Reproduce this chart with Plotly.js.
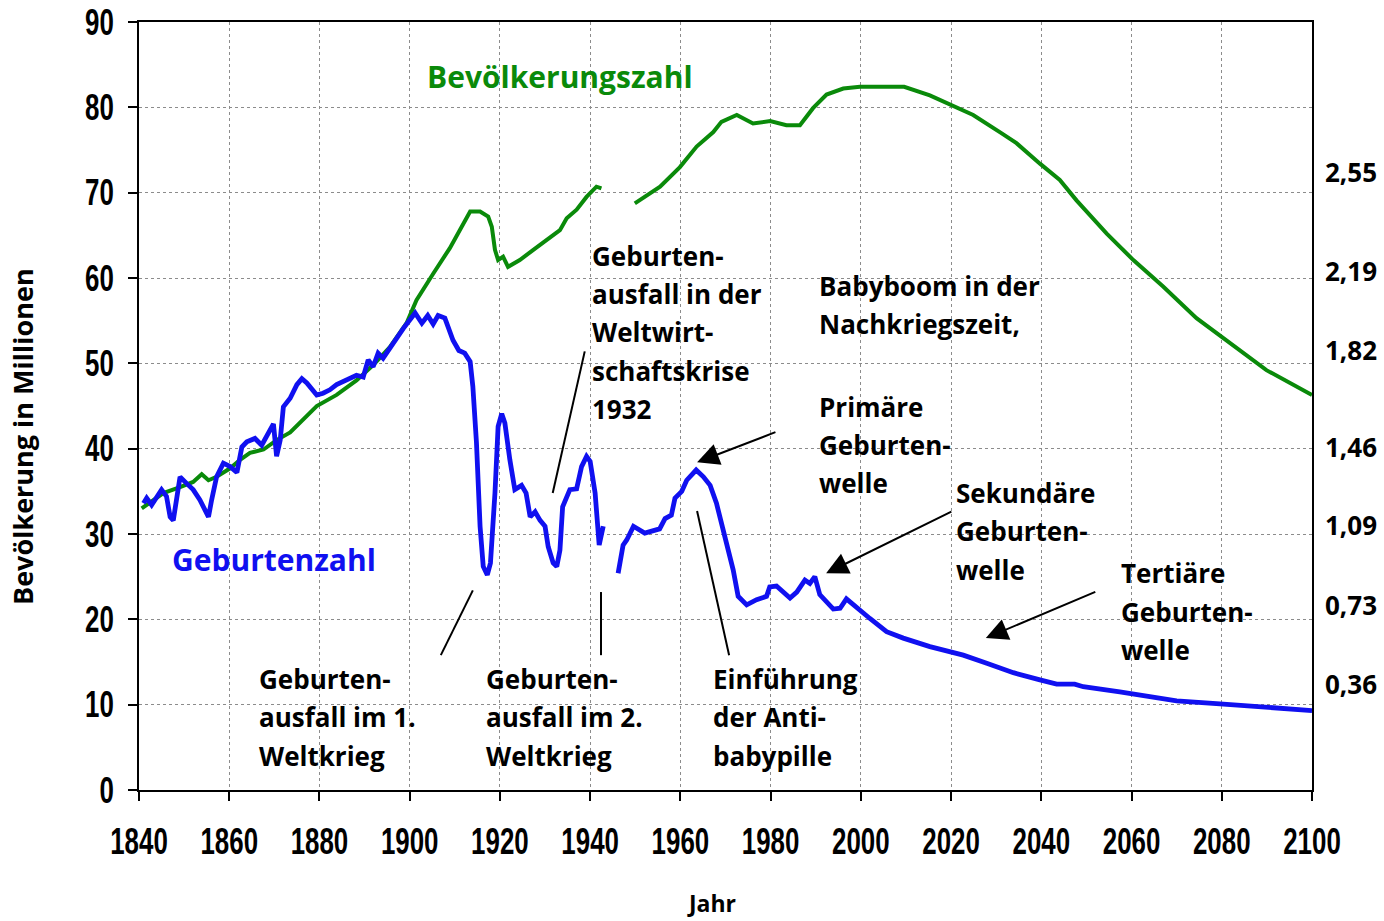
<!DOCTYPE html>
<html>
<head>
<meta charset="utf-8">
<script src="https://cdn.plot.ly/plotly-3.0.1.min.js"></script>
<style>html,body{margin:0;padding:0;background:#fff;}#chart{width:1384px;height:921px;}</style>
</head>
<body>
<div id="chart"></div>
<script>
// ---------- data ----------
const popYears = [1840.6,1845.4,1849.1,1852,1853.9,1855.4,1857.2,1860.2,1862.4,1864.6,1867.6,1870.5,1873.5,1876.4,1879.4,1883.8,1888.2,1891.9,1895.6,1899.3,1901.5,1905.2,1908.9,1911.1,1913.4,1915.6,1917.4,1918.2,1918.9,1919.6,1920.7,1921.8,1924.4,1927.4,1930.4,1933.3,1934.8,1937,1939.2,1941.4,1942.5,1946,1949.9,1955.5,1959.9,1963.6,1967.3,1969.1,1972.5,1976.1,1979.9,1983.5,1986.5,1989.4,1992.4,1996.1,1999.8,2009.6,2015.3,2020.1,2024.9,2030.8,2034.5,2039.7,2044.1,2047.8,2054.5,2060.4,2067,2074.4,2080,2089.9,2100];
const popValues = [33,34.8,35.5,36.1,37,36.3,36.7,37.7,38.7,39.5,39.9,41,41.9,43.5,45,46.3,48,49.8,51.9,54.7,57.4,60.5,63.5,65.6,67.8,67.8,67.2,66,63.3,62.1,62.5,61.3,62.1,63.3,64.5,65.6,67,68,69.5,70.7,70.5,null,68.75,70.7,73,75.4,77.1,78.3,79.1,78.1,78.4,77.9,77.9,79.9,81.5,82.2,82.4,82.4,81.4,80.3,79.1,77.1,75.8,73.4,71.5,69.1,65.2,62.1,59,55.3,53.1,49.2,46.3];

const birthYears = [1841,1841.7,1842.8,1843.9,1845,1846.1,1846.9,1847.6,1848.4,1849.1,1850.6,1852,1853.5,1854.6,1855.4,1856.1,1857.2,1858.7,1860.2,1861.7,1862.8,1863.9,1865.7,1867.2,1868.7,1869.8,1870.5,1871.3,1872,1873.5,1875,1876.1,1877.2,1878.3,1879.4,1880.8,1882.3,1883.8,1886,1888.2,1889.7,1890.8,1891.9,1893,1894.1,1896.4,1898.6,1901.2,1902.7,1904,1905.2,1906.3,1907.8,1909.6,1910.9,1912.2,1913.4,1914,1914.8,1915.6,1916.3,1917.2,1917.9,1918.9,1919.6,1920.4,1921.1,1922.2,1923.3,1924.8,1925.8,1926.7,1927.8,1928.9,1930,1930.7,1931.8,1932.6,1933.3,1933.9,1935.5,1937,1938.1,1939.2,1940,1941.1,1942,1942.9,1944.5,1946.2,1947.3,1948.1,1949.6,1952.1,1955.4,1956.6,1958,1958.8,1960.3,1961.4,1963.5,1965.1,1966.6,1968,1969.5,1970.6,1971.7,1972.8,1974.7,1976.9,1979.1,1979.8,1981.3,1984.3,1985.8,1987.6,1988.7,1989.8,1990.9,1993.9,1995.4,1996.8,1999.1,2002,2005.7,2009.4,2015.3,2020.5,2022.7,2027.9,2033.8,2039.7,2043.4,2047.4,2049.3,2057.4,2064.8,2070,2079.6,2090.7,2100];
const birthValues = [33.6,34.2,33.4,34.2,35.2,34.4,32,31.6,34.8,36.7,35.9,35.2,34,32.8,32,34,36.7,38.3,37.9,37.2,40.2,40.8,41.2,40.4,42,42.9,39.1,41,44.9,45.9,47.5,48.2,47.7,47.1,46.3,46.5,46.9,47.5,48,48.6,48.4,50.4,49.6,51.2,50.6,52.5,54.1,55.9,54.7,55.6,54.6,55.6,55.3,52.7,51.5,51.2,50.2,47.3,40.7,30.9,26.2,25.2,26.6,34.8,42.6,44.1,43,38.7,35.2,35.7,34.8,32,32.6,31.6,30.9,28.5,26.6,26.2,28.1,33.2,35.2,35.3,37.9,39.1,38.5,34.8,28.7,30.9,null,25.4,28.7,29.3,30.9,30.1,30.6,31.8,32.2,34.2,35,36.3,37.5,36.7,35.7,33.6,30.5,28.5,25.8,22.7,21.7,22.3,22.7,23.8,23.9,22.5,23.2,24.6,24.2,25,22.9,21.2,21.3,22.4,21.3,20.1,18.55,17.8,16.8,16,15.8,14.85,13.75,12.9,12.4,12.4,12.1,11.5,10.85,10.45,10.1,9.7,9.3];

const xTicks = [1840,1860,1880,1900,1920,1940,1960,1980,2000,2020,2040,2060,2080,2100];
const yTicks = [0,10,20,30,40,50,60,70,80,90];
const rightLabels = ['2,55','2,19','1,82','1,46','1,09','0,73','0,36'];
const rightLabelPos = [72.3,60.7,51.4,40.1,30.9,21.6,12.3];

// text blocks: lines, left year, first-line value
const blocks = [
  {lines:['Geburten-','ausfall in der','Weltwirt-','schaftskrise','1932'], x:1940.0, y:62.6},
  {lines:['Babyboom in der','Nachkriegszeit,'], x:1990.3, y:59.1},
  {lines:['Primäre','Geburten-','welle'], x:1990.3, y:44.9},
  {lines:['Sekundäre','Geburten-','welle'], x:2020.7, y:34.8},
  {lines:['Tertiäre','Geburten-','welle'], x:2057.3, y:25.4},
  {lines:['Geburten-','ausfall im 1.','Weltkrieg'], x:1866.2, y:13.0},
  {lines:['Geburten-','ausfall im 2.','Weltkrieg'], x:1916.5, y:13.0},
  {lines:['Einführung','der Anti-','babypille'], x:1966.8, y:13.0}
];
// arrows: [tipX, tipY, tailX, tailY]
const arrows = [[1963.7,38.4,1981.4,42.0],[1992.3,25.4,2020.4,32.7],[2027.7,17.8,2052.3,23.3]];
// plain leader lines: [x0,y0,x1,y1]
const leaders = [[1906.9,15.8,1914.0,23.4],[1942.4,23.2,1942.4,15.8],[1938.8,51.4,1931.7,34.8],[1963.7,32.7,1970.8,15.8]];

// ---------- layout helpers ----------
const L = 139, R = 1312, T = 22, B = 790;
const px = v => (v - L) / (R - L);
const py = v => (B - v) / (B - T);
const masks = [[412,600,22,112],[405,412,22,43],[600,800,22,104],[152,453,527,590],[573,800,226,437],[800,1089,255,392],[800,993,392,508],[937,1145,470,598],[1102,1294,542,678],[240,918,648,788]];

const TXT = '"Open Sans", Lato, sans-serif';
const TICKF = '"Liberation Sans", Arial, sans-serif';

const annotations = [];
const LINE = 38.3;
blocks.forEach(b => {
  b.lines.forEach((t, i) => {
    annotations.push({xref:'x', yref:'y', x:b.x, y:b.y, yshift:-LINE*i, xanchor:'left', yanchor:'middle',
      text:'<b>'+t+'</b>', showarrow:false, font:{family:TXT, size:26, color:'#000'}});
  });
});
annotations.push({xref:'x', yref:'y', x:1903.4, y:83.6, xanchor:'left', yanchor:'middle', text:'<b>Bevölkerungszahl</b>', showarrow:false, font:{family:TXT, size:30, color:'#0a8a0a'}});
annotations.push({xref:'x', yref:'y', x:1846.8, y:27.0, xanchor:'left', yanchor:'middle', text:'<b>Geburtenzahl</b>', showarrow:false, font:{family:TXT, size:30, color:'#1010f0'}});
arrows.forEach(a => {
  annotations.push({xref:'x', yref:'y', axref:'x', ayref:'y', x:a[0], y:a[1], ax:a[2], ay:a[3], text:'', showarrow:true,
    arrowhead:2, arrowsize:2.2, arrowwidth:2, arrowcolor:'#000', standoff:0, startstandoff:0});
});
annotations.push({xref:'paper', yref:'paper', x:px(711), y:py(920), xanchor:'center', yanchor:'bottom', borderpad:0, text:'<b>Jahr</b>', showarrow:false, font:{family:TXT, size:23, color:'#000'}});
annotations.push({xref:'paper', yref:'paper', x:px(23), y:py(437), xanchor:'center', yanchor:'middle', textangle:-90, text:'<b>Bevölkerung in Millionen</b>', showarrow:false, font:{family:TXT, size:27, color:'#000'}});

const shapes = [];
masks.forEach(m => shapes.push({type:'rect', xref:'paper', yref:'paper', x0:px(m[0]), x1:px(m[1]), y0:py(m[3]), y1:py(m[2]), fillcolor:'#fff', line:{width:0}, layer:'between'}));
leaders.forEach(l => shapes.push({type:'line', xref:'x', yref:'y', x0:l[0], y0:l[1], x1:l[2], y1:l[3], line:{color:'#000', width:2}, layer:'above'}));

const traces = [
  {x:popYears, y:popValues, type:'scatter', mode:'lines', line:{color:'#0a8a0a', width:4}, connectgaps:false, hoverinfo:'x+y', name:'Bevölkerungszahl'},
  {x:birthYears, y:birthValues, type:'scatter', mode:'lines', line:{color:'#1010f0', width:4.8}, connectgaps:false, hoverinfo:'x+y', name:'Geburtenzahl'},
  {x:[2100], y:[null], yaxis:'y2', type:'scatter', mode:'lines', showlegend:false, hoverinfo:'skip'}
];

const layout = {
  width:1384, height:921,
  margin:{l:L, r:1384-R, t:T, b:921-B, pad:0},
  paper_bgcolor:'#fff', plot_bgcolor:'#fff',
  showlegend:false,
  xaxis:{range:[1840,2100], tickvals:xTicks, showgrid:true, gridcolor:'#8c8c8c', gridwidth:1, griddash:'dot',
    showline:true, linecolor:'#000', linewidth:2, mirror:true, ticks:'outside', ticklen:9, tickwidth:2, tickcolor:'#000',
    zeroline:false, ticklabelstandoff:10, tickfont:{family:TICKF, size:36, color:'#000', weight:'bold'}},
  yaxis:{range:[0,90], tickvals:yTicks, showgrid:true, gridcolor:'#8c8c8c', gridwidth:1, griddash:'dot',
    showline:true, linecolor:'#000', linewidth:2, mirror:true, ticks:'outside', ticklen:9, tickwidth:2, tickcolor:'#000',
    zeroline:false, ticklabelstandoff:7, tickfont:{family:TICKF, size:36, color:'#000', weight:'bold'}},
  yaxis2:{range:[0,90], overlaying:'y', side:'right', tickvals:rightLabelPos, ticktext:rightLabels, showgrid:false,
    zeroline:false, showline:false, ticks:'', ticklabelstandoff:12, tickfont:{family:TXT, size:26, color:'#000', weight:'bold'}},
  annotations:annotations,
  shapes:shapes
};

// condensed look of the numeric tick labels (Arial-Narrow-like): squeeze glyphs horizontally
function squeezeTicks() {
  document.querySelectorAll('#chart .xtick text, #chart .ytick text').forEach(t => {
    const n = (t.textContent || '').length;
    t.setAttribute('textLength', String(n * 14.4));
    t.setAttribute('lengthAdjust', 'spacingAndGlyphs');
  });
}

Plotly.newPlot('chart', traces, layout, {displayModeBar:false, staticPlot:true}).then(squeezeTicks);
</script>
</body>
</html>
